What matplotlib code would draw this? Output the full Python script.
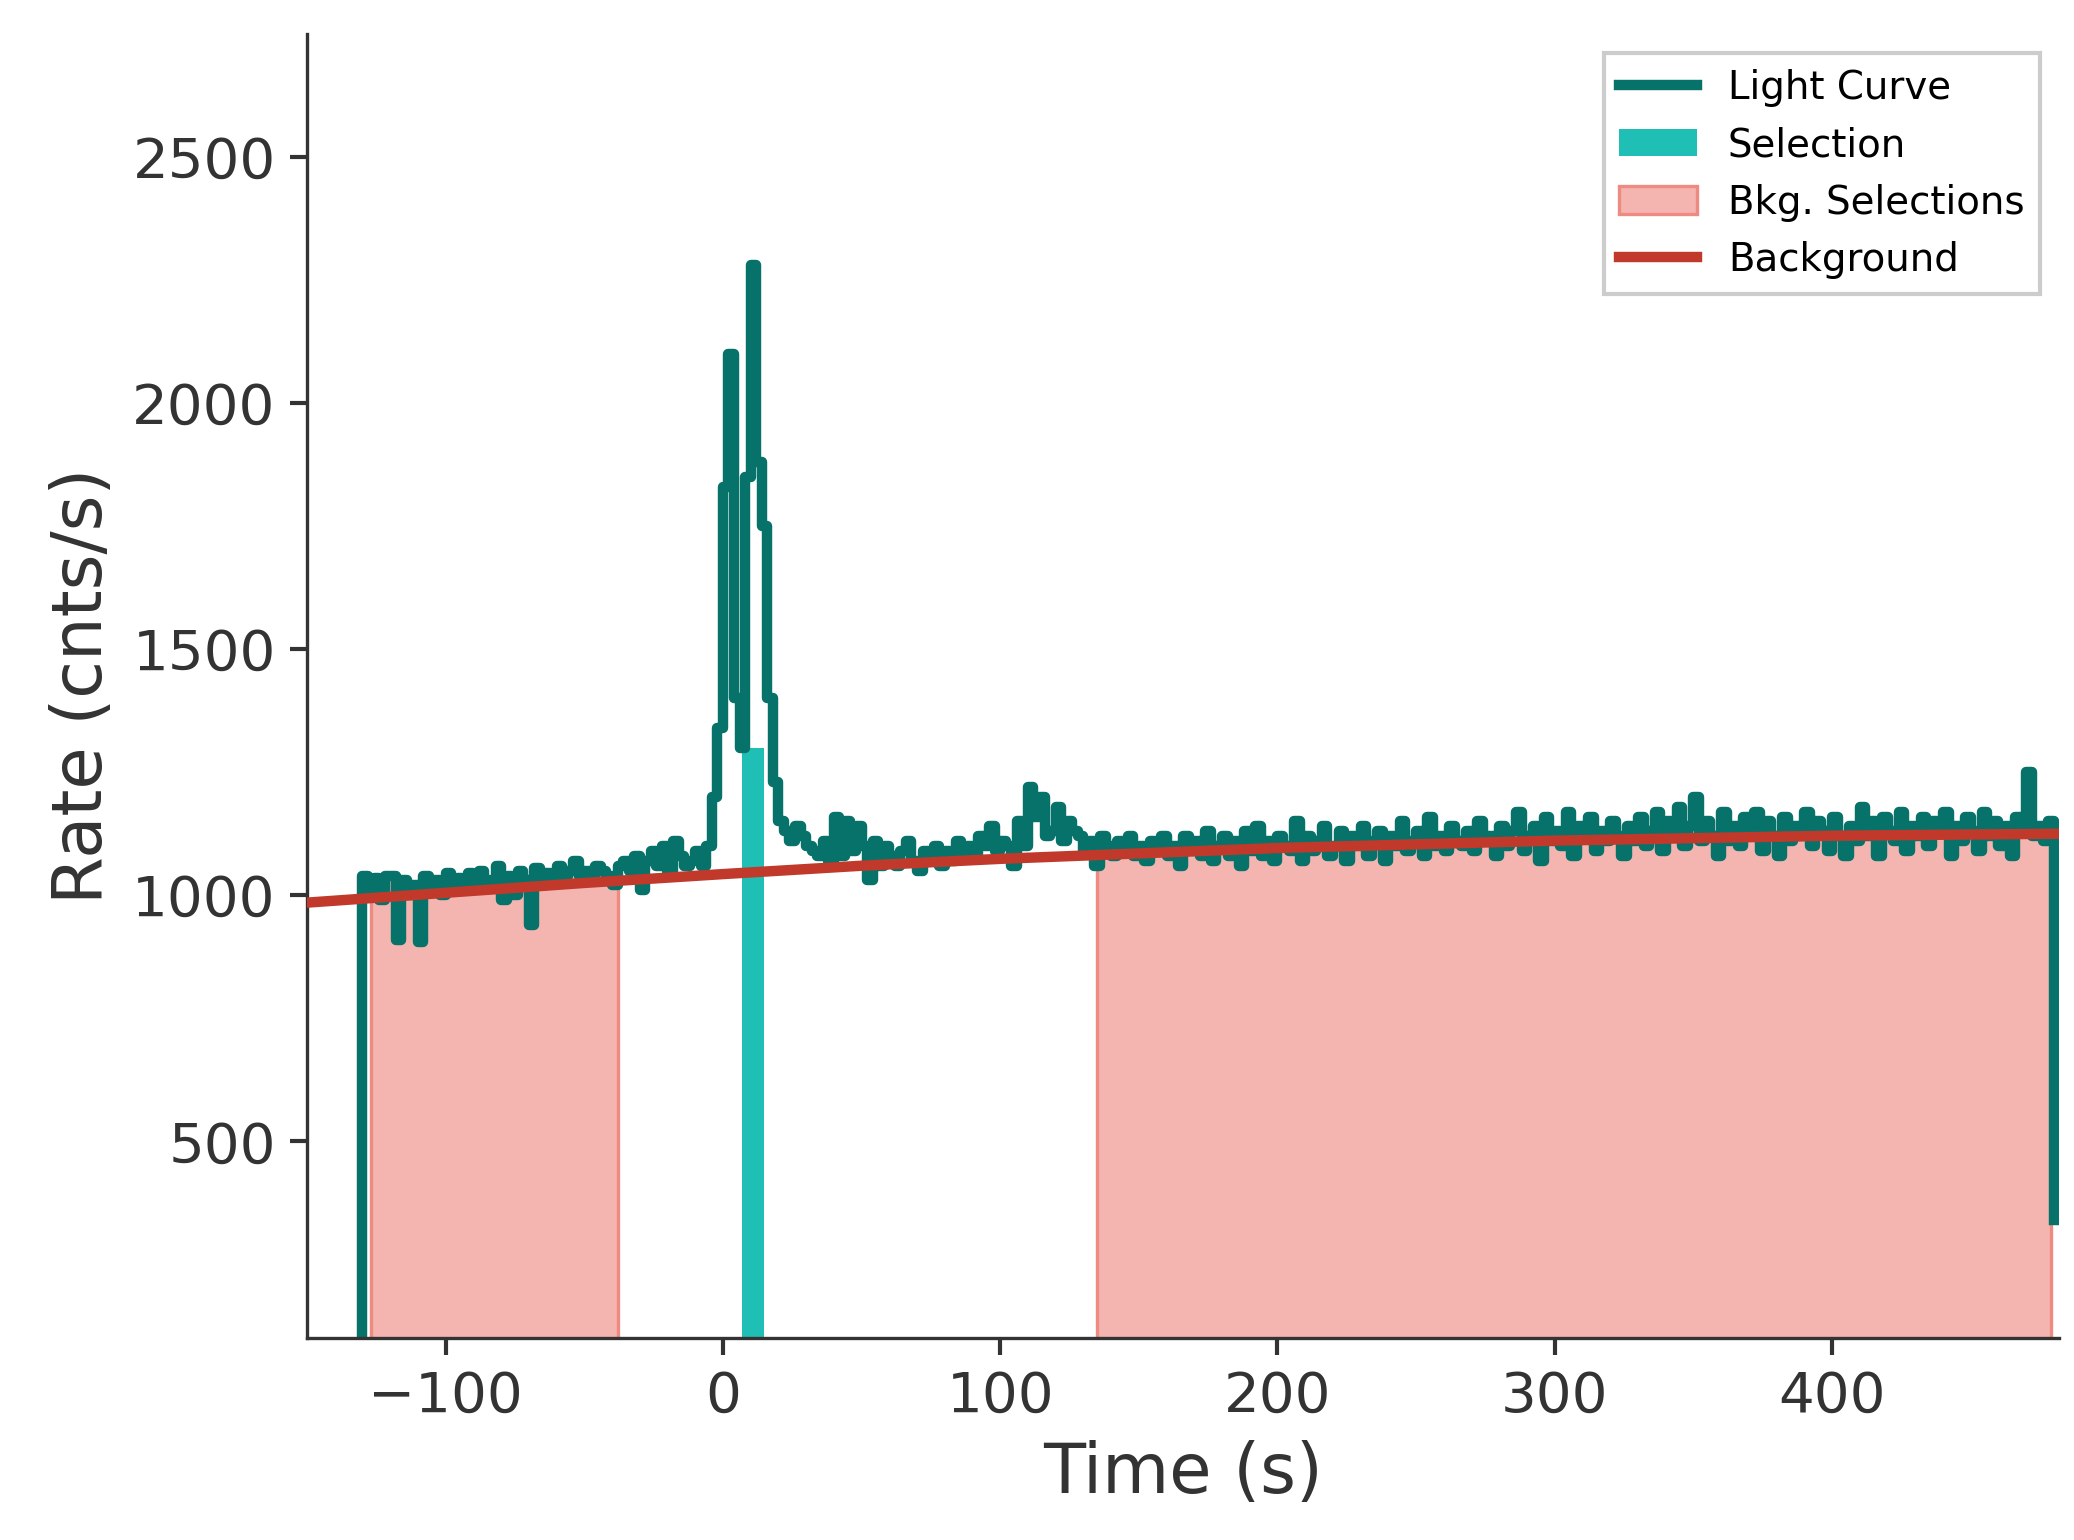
import numpy as np
import matplotlib.pyplot as plt

# light curve, 2 s bins starting at -130 s
t_start = -130.0
bin_w = 2.0
rates = [
    1040, 1000, 1035, 990, 1040, 1040, 910, 1030, 1000, 1020,
    905, 1040, 1010, 1030, 1000, 1045, 1010, 1035, 1025, 1045,
    1015, 1050, 1030, 1020, 1060, 990, 1040, 1000, 1050, 1030,
    940, 1055, 1020, 1045, 1030, 1060, 1040, 1050, 1070, 1040,
    1050, 1030, 1060, 1050, 1040, 1020, 1060, 1070, 1050, 1080,
    1010, 1070, 1090, 1060, 1100, 1050, 1110, 1080, 1060, 1070,
    1090, 1060, 1100, 1200, 1340, 1830, 2100, 1400, 1300, 1850,
    2280, 1880, 1750, 1400, 1230, 1150, 1130, 1110, 1140, 1120,
    1100, 1090, 1080, 1110, 1070, 1160, 1080, 1150, 1090, 1140,
    1100, 1030, 1110, 1060, 1100, 1080, 1060, 1090, 1110, 1070,
    1050, 1090, 1070, 1100, 1060, 1090, 1070, 1110, 1090, 1100,
    1080, 1120, 1100, 1140, 1090, 1110, 1100, 1060, 1150, 1100,
    1220, 1160, 1200, 1120, 1130, 1180, 1110, 1150, 1130, 1120,
    1090, 1110, 1060, 1120, 1100, 1080, 1110, 1090, 1120, 1080,
    1100, 1070, 1110, 1090, 1120, 1080, 1100, 1060, 1120, 1090,
    1110, 1080, 1130, 1070, 1100, 1120, 1080, 1110, 1060, 1130,
    1090, 1140, 1080, 1110, 1070, 1120, 1100, 1090, 1150, 1070,
    1120, 1090, 1110, 1140, 1080, 1100, 1130, 1070, 1120, 1100,
    1140, 1080, 1110, 1130, 1070, 1120, 1100, 1150, 1090, 1110,
    1130, 1080, 1160, 1100, 1120, 1090, 1140, 1110, 1100, 1130,
    1090, 1150, 1110, 1120, 1080, 1140, 1100, 1130, 1170, 1090,
    1120, 1140, 1070, 1160, 1110, 1130, 1100, 1170, 1080, 1140,
    1120, 1160, 1090, 1130, 1110, 1150, 1120, 1080, 1140, 1110,
    1160, 1100, 1130, 1170, 1090, 1150, 1120, 1180, 1100, 1140,
    1200, 1110, 1150, 1120, 1080, 1170, 1110, 1140, 1100, 1160,
    1130, 1170, 1090, 1150, 1120, 1080, 1160, 1110, 1140, 1120,
    1170, 1100, 1150, 1130, 1090, 1160, 1120, 1080, 1140, 1110,
    1180, 1120, 1150, 1080, 1160, 1130, 1110, 1170, 1090, 1140,
    1120, 1160, 1100, 1150, 1130, 1170, 1080, 1140, 1110, 1160,
    1130, 1090, 1170, 1120, 1150, 1100, 1140, 1080, 1160, 1130,
    1250, 1120, 1140, 1110, 1150,
]
rate_before = 100
rate_after = 340

bkg_t = [-150, -50, 0, 50, 100, 200, 300, 400, 482]
bkg_rate = [985, 1025, 1043, 1060, 1074, 1096, 1111, 1121, 1125]

src_range = (7, 15)
src_level = 1300
bkg_ranges = [(-127, -38), (135, 479)]

rates = np.array(rates, dtype=float)
edges = t_start + bin_w * np.arange(len(rates) + 1)


def clipped(lo, hi):
    inner = edges[(edges > lo) & (edges < hi)]
    x = np.concatenate([[lo], inner, [hi]])
    idx = np.clip(np.searchsorted(edges, x, side='right') - 1, 0, len(rates) - 1)
    return x, rates[idx]


fig = plt.figure(figsize=(2074 / 300, 1540 / 300), dpi=300)
ax = fig.add_axes([0.148, 0.131, 0.845, 0.847])

xs = np.concatenate([[edges[0]], edges])
ys = np.concatenate([[rate_before], rates, [rate_after]])

for i, (lo, hi) in enumerate(bkg_ranges):
    x, y = clipped(lo, hi)
    ax.fill_between(x, 0, y, step='post', facecolor='#f4b5b0',
                    edgecolor='#ee8a82', lw=0.8, zorder=1,
                    label='Bkg. Selections' if i == 0 else None)
x, y = clipped(*src_range)
ax.fill_between(x, 0, np.minimum(y, src_level), step='post', color='#20bfb5',
                lw=0, zorder=1, label='Selection')

ax.step(xs, ys, where='post', color='#06726a', lw=2.5, zorder=2,
        label='Light Curve')
ax.plot(bkg_t, bkg_rate, color='#c0392b', lw=2.5, zorder=3,
        label='Background')

ax.set_xlim(-150, 482)
ax.set_ylim(100, 2750)
ax.set_yticks([500, 1000, 1500, 2000, 2500])
ax.set_xlabel('Time (s)', fontsize=16.5, color='#333333')
ax.set_ylabel('Rate (cnts/s)', fontsize=16.5, color='#333333')
ax.tick_params(labelsize=13.5, colors='#333333', width=1, length=4)
for s in ['top', 'right']:
    ax.spines[s].set_visible(False)
for s in ['left', 'bottom']:
    ax.spines[s].set_color('#333333')

h, l = ax.get_legend_handles_labels()
order = ['Light Curve', 'Selection', 'Bkg. Selections', 'Background']
hd = dict(zip(l, h))
ax.legend([hd[k] for k in order], order, loc='upper right', fontsize=9.3,
          fancybox=False, framealpha=1, edgecolor='#cccccc')

fig.savefig('out.png', dpi=300)
